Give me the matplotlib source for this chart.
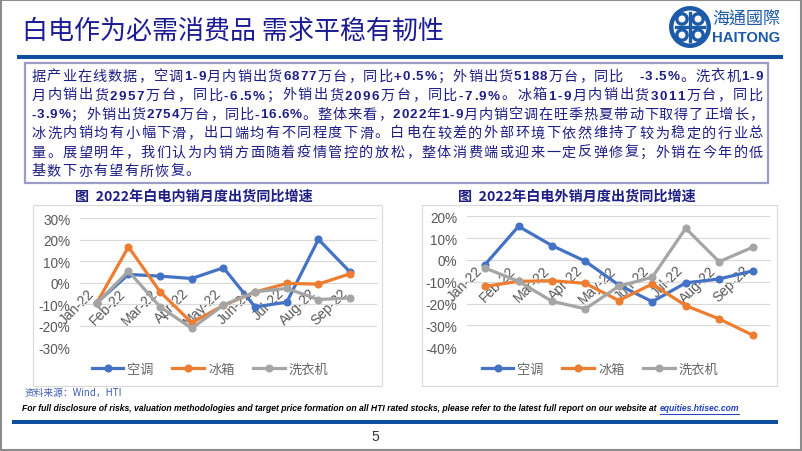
import matplotlib
matplotlib.use('Agg')
import matplotlib.pyplot as plt
from matplotlib.patches import Rectangle, Circle
from matplotlib.lines import Line2D
from matplotlib import font_manager

# ---------------- data ----------------
months = ['Jan-22', 'Feb-22', 'Mar-22', 'Apr-22', 'May-22', 'Jun-22', 'Jul-22', 'Aug-22', 'Sep-22']
series_names = ['空调', '冰箱', '洗衣机']
dom_ac = [-9.3, 3.9, 3.1, 2.0, 7.0, -11.2, -9.0, 20.2, 5.0]
dom_fridge = [-9.3, 16.7, -4.2, -18.6, -10.5, -4.3, -0.3, -0.6, 4.2]
dom_washer = [-9.5, 5.4, -11.2, -21.2, -10.4, -4.2, -2.6, -7.8, -7.0]
exp_ac = [-2.1, 15.4, 6.6, -0.6, -11.5, -19.1, -10.5, -8.7, -5.0]
exp_fridge = [-12.1, -9.8, -9.5, -10.7, -18.6, -11.0, -20.9, -27.0, -34.4]
exp_washer = [-3.7, -9.8, -18.9, -22.4, -12.0, -7.9, 14.5, -0.8, 5.8]
dom_ticks = [30, 20, 10, 0, -10, -20, -30]
exp_ticks = [20, 10, 0, -10, -20, -30, -40]

main_title = '白电作为必需消费品 需求平稳有韧性'
dom_title = '图  2022年白电内销月度出货同比增速'
exp_title = '图  2022年白电外销月度出货同比增速'
body_lines = [
    '据产业在线数据，空调1-9月内销出货6877万台，同比+0.5%；外销出货5188万台，同比　-3.5%。洗衣机1-9',
    '月内销出货2957万台，同比-6.5%；外销出货2096万台，同比-7.9%。冰箱1-9月内销出货3011万台，同比',
    '-3.9%；外销出货2754万台，同比-16.6%。整体来看，2022年1-9月内销空调在旺季热夏带动下取得了正增长，',
    '冰洗内销均有小幅下滑，出口端均有不同程度下滑。白电在较差的外部环境下依然维持了较为稳定的行业总',
    '量。展望明年，我们认为内销方面随着疫情管控的放松，整体消费端或迎来一定反弹修复；外销在今年的低',
    '基数下亦有望有所恢复。',
]
source_text = '资料来源：Wind，HTI'
footer_text = 'For full disclosure of risks, valuation methodologies and target price formation on all HTI rated stocks, please refer to the latest full report on our website at'
footer_link = 'equities.htisec.com'
page_no = '5'

# ---------------- setup ----------------
W, H = 802, 452
fig = plt.figure(figsize=(W / 100, H / 100), dpi=100)
fig.patch.set_facecolor('white')
renderer = fig.canvas.get_renderer()

available = {f.name for f in font_manager.fontManager.ttflist}
CJK = ['Noto Sans CJK SC', 'DejaVu Sans']
NARROW = 'Liberation Sans Narrow' if 'Liberation Sans Narrow' in available else 'Liberation Sans'
SANS = 'Liberation Sans'
NAVY = '#1e1e87'
HT_BLUE = '#0d4f9e'
COLORS = ['#4472C4', '#ED7D31', '#A5A5A5']
GRID = '#d9d9d9'
TICKC = '#595959'


def fx(x):
    return x / W


def fy(y):
    return 1 - y / H


def add_axes_px(x0, y0, x1, y1):
    return fig.add_axes([x0 / W, 1 - y1 / H, (x1 - x0) / W, (y1 - y0) / H])


def rect_px(x0, y0, x1, y1, **kw):
    r = Rectangle((fx(x0), fy(y1)), (x1 - x0) / W, (y1 - y0) / H, transform=fig.transFigure, **kw)
    fig.patches.append(r)
    return r


def text_width(t):
    return t.get_window_extent(renderer).width


def fit_text(x, y, s, target_w, size0, **kw):
    t = fig.text(fx(x), fy(y), s, fontsize=size0, **kw)
    w = text_width(t)
    t.set_fontsize(size0 * target_w / w)
    return t


# outer frame
rect_px(1, 1, 801, 451, fill=False, ec='#8c8c8c', lw=1.5)

# ---------------- header ----------------
fit_text(22, 31, main_title, 423, 17, family=CJK, fontweight='medium', color='#1b1b96',
         va='center', ha='left')
rect_px(17, 56, 783, 60, fc=HT_BLUE, ec='none')

# logo
axl = add_axes_px(668, 6, 712, 50)
axl.set_xlim(-1.15, 1.15)
axl.set_ylim(-1.15, 1.15)
axl.axis('off')
axl.add_patch(Circle((0, 0), 0.98, fill=False, ec='#1d5aa8', lw=3.2))
for (cx, cy) in [(0.42, 0.42), (-0.42, 0.42), (-0.42, -0.42), (0.42, -0.42)]:
    axl.add_patch(Circle((cx, cy), 0.27, fill=False, ec='#1d5aa8', lw=2.4))
axl.plot([-0.75, 0.75], [0, 0], color='#1d5aa8', lw=2.4)
axl.plot([0, 0], [-0.75, 0.75], color='#1d5aa8', lw=2.4)
fit_text(712, 20, '海通國際', 68, 12, family=['Noto Sans CJK TC', 'Noto Sans CJK SC', 'DejaVu Sans'],
         color='#1d5aa8', va='center', ha='left')
fit_text(712, 37.5, 'HAITONG', 68, 12, family=NARROW, fontweight='bold', color='#1d5aa8',
         va='center', ha='left')

# ---------------- body text box ----------------
rect_px(25, 64, 768, 184, fill=False, ec='#9c9cc8', lw=1.6)


def draw_line(s, x0, x1, y_base, justify=True, extra_default=0.0):
    objs = []
    widths = []
    for ch in s:
        if ord(ch) < 128:
            t = fig.text(0, 0, ch, fontsize=9.6, family=SANS, fontweight='bold', color=NAVY, va='baseline')
        else:
            t = fig.text(0, 0, ch, fontsize=10.2, family=CJK, fontweight='medium', color=NAVY, va='baseline')
        objs.append(t)
        widths.append(text_width(t))
    total = sum(widths)
    if justify and len(s) > 1:
        extra = (x1 - x0 - total) / (len(s) - 1)
    else:
        extra = extra_default
    x = x0
    for t, w in zip(objs, widths):
        t.set_position((fx(x), fy(y_base)))
        x += w + extra
    return extra


line_y = [75.5, 94.5, 113.5, 132.5, 151.5, 170.5]
extras = []
for i, s in enumerate(body_lines):
    last = (i == len(body_lines) - 1)
    e = draw_line(s, 31.5, 763, line_y[i] + 5, justify=not last,
                  extra_default=max(0.0, sum(extras) / len(extras)) if extras else 0.0)
    if not last:
        extras.append(e)


# ---------------- charts ----------------
def pct(v, pos=None):
    return f'{int(round(v))}%'


def draw_chart(box, plot, xlim, yticks, data, title, title_x, legend_cx):
    rect_px(*box, fill=False, ec=GRID, lw=0.8)
    fit_text(title_x, 197, title, 237, 10, family=CJK, fontweight='bold', color=NAVY,
             va='center', ha='left')
    ax = add_axes_px(*plot)
    ax.set_facecolor('none')
    ax.set_xlim(*xlim)
    ax.set_ylim(min(yticks), max(yticks))
    ax.set_yticks(yticks)
    ax.set_yticklabels([pct(v) for v in yticks], fontsize=9.8, color=TICKC, family=SANS)
    ax.grid(axis='y', color=GRID, lw=0.8)
    ax.set_axisbelow(True)
    for sp in ['left', 'right', 'top']:
        ax.spines[sp].set_visible(False)
    ax.spines['bottom'].set_position(('data', 0))
    ax.spines['bottom'].set_color(GRID)
    ax.spines['bottom'].set_linewidth(0.8)
    xs = list(range(len(months)))
    ax.set_xticks(xs)
    ax.set_xticklabels(months, rotation=45, ha='right', va='top', fontsize=10, color=TICKC, family=SANS)
    ax.tick_params(axis='y', length=0, pad=7)
    ax.tick_params(axis='x', length=0, pad=2)
    handles = []
    for vals, c in zip(data, COLORS):
        ax.plot(xs, vals, color=c, lw=2.3, marker='o', ms=4.8, clip_on=False, zorder=3)
        handles.append(Line2D([], [], color=c, lw=2.3, marker='o', ms=4.8))
    fig.legend(handles, series_names, loc='center', bbox_to_anchor=(fx(legend_cx), fy(370)), ncol=3,
               frameon=False, prop={'family': CJK, 'size': 9.5}, labelcolor='#666666',
               handlelength=2.4, handletextpad=0.3, columnspacing=1.4)
    return ax


draw_chart((33, 206, 382, 387), (80, 219.3, 377, 348.3), (-0.53, 8.85), dom_ticks,
           [dom_ac, dom_fridge, dom_washer], dom_title, 75, 210)
draw_chart((422, 206, 777, 387), (467, 217.3, 770, 348.3), (-0.54, 8.52), exp_ticks,
           [exp_ac, exp_fridge, exp_washer], exp_title, 458, 600)

# ---------------- footer ----------------
fig.text(fx(25), fy(393), source_text, fontsize=7, family=CJK, color='#3d5fb0', va='center', ha='left')
t1 = fig.text(fx(22), fy(409), footer_text, fontsize=9, family=NARROW, fontweight='bold',
              style='italic', color='black', va='center', ha='left')
t2 = fig.text(0, 0, footer_link, fontsize=9, family=NARROW, fontweight='bold',
              style='italic', color='#1f3fbf', va='center', ha='left')
gap = 3.0
w_total = text_width(t1) + text_width(t2) + gap
scale = (748 - 22 - gap) / (w_total - gap)
t1.set_fontsize(9 * scale)
t2.set_fontsize(9 * scale)
w1 = text_width(t1)
w2 = text_width(t2)
x2 = 22 + w1 + gap
t2.set_position((fx(x2), fy(409)))
fig.lines.append(Line2D([fx(x2), fx(x2 + w2)], [fy(415), fy(415)], transform=fig.transFigure,
                        color='#1f3fbf', lw=0.7))
rect_px(12, 421, 778, 425, fc=HT_BLUE, ec='none')
fig.text(fx(375), fy(437), page_no, fontsize=10, family=SANS, color='#333333', va='center', ha='center')

fig.savefig('out.png', dpi=100)
